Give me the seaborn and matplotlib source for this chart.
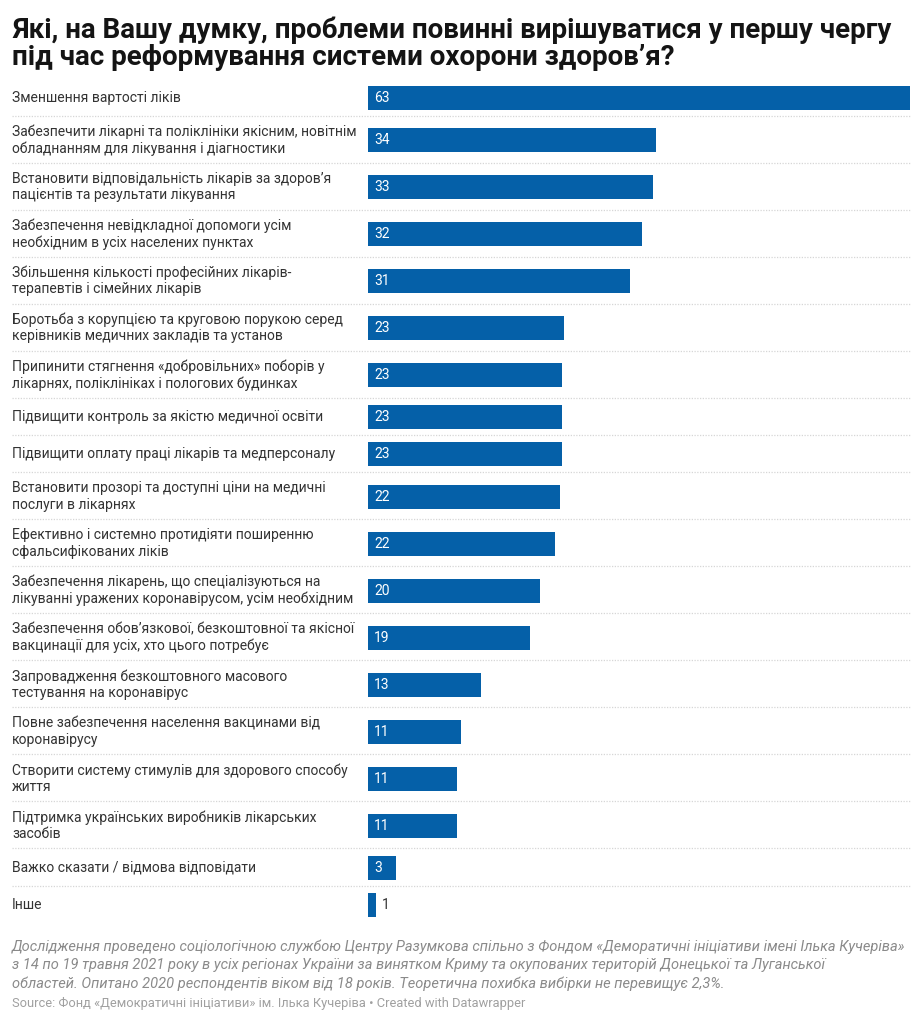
import numpy as np
import pandas as pd
import matplotlib
matplotlib.use("Agg")
import matplotlib.pyplot as plt
import matplotlib.transforms as mtransforms
import seaborn as sns

# --- data -----------------------------------------------------------------
problems = [
    "Зменшення вартості ліків",
    "Забезпечити лікарні та поліклініки якісним, новітнім\nобладнанням для лікування і діагностики",
    "Встановити відповідальність лікарів за здоров’я\nпацієнтів та результати лікування",
    "Забезпечення невідкладної допомоги усім\nнеобхідним в усіх населених пунктах",
    "Збільшення кількості професійних лікарів-\nтерапевтів і сімейних лікарів",
    "Боротьба з корупцією та круговою порукою серед\nкерівників медичних закладів та установ",
    "Припинити стягнення «добровільних» поборів у\nлікарнях, поліклініках і пологових будинках",
    "Підвищити контроль за якістю медичної освіти",
    "Підвищити оплату праці лікарів та медперсоналу",
    "Встановити прозорі та доступні ціни на медичні\nпослуги в лікарнях",
    "Ефективно і системно протидіяти поширенню\nсфальсифікованих ліків",
    "Забезпечення лікарень, що спеціалізуються на\nлікуванні уражених коронавірусом, усім необхідним",
    "Забезпечення обов’язкової, безкоштовної та якісної\nвакцинації для усіх, хто цього потребує",
    "Запровадження безкоштовного масового\nтестування на коронавірус",
    "Повне забезпечення населення вакцинами від\nкоронавірусу",
    "Створити систему стимулів для здорового способу\nжиття",
    "Підтримка українських виробників лікарських\nзасобів",
    "Важко сказати / відмова відповідати",
    "Інше",
]
share = [63.0, 33.5, 33.1, 31.8, 30.4, 22.8, 22.6, 22.5, 22.5, 22.3,
         21.7, 20.0, 18.8, 13.1, 10.8, 10.4, 10.4, 3.3, 0.9]
shown = ["63", "34", "33", "32", "31", "23", "23", "23", "23", "22",
         "22", "20", "19", "13", "11", "11", "11", "3", "1"]

title = ("Які, на Вашу думку, проблеми повинні вирішуватися у першу чергу\n"
         "під час реформування системи охорони здоров’я?")
notes = [
    "Дослідження проведено соціологічною службою Центру Разумкова спільно з Фондом «Деморатичні ініціативи імені Ілька Кучеріва»",
    "з 14 по 19 травня 2021 року в усіх регіонах України за винятком Криму та окупованих територій Донецької та Луганської",
    "областей. Опитано 2020 респондентів віком від 18 років. Теоретична похибка вибірки не перевищує 2,3%.",
]
source = "Source: Фонд «Демократичні ініціативи» ім. Ілька Кучеріва • Created with Datawrapper"

# --- style / layout ---------------------------------------------------------
W, H = 923, 1024
BLUE = "#0560a8"
sns.set_style("white")
plt.rcParams["font.family"] = ["Roboto", "DejaVu Sans"]

# row heights depend on how many lines the label has (pixel units)
n_lines = np.array([p.count("\n") + 1 for p in problems])
row_h = np.where(n_lines > 1, 47.0, 37.3)
edges = 78.4 + np.concatenate([[0], np.cumsum(row_h)])
centers = (edges[:-1] + edges[1:]) / 2 + 0.8

df = pd.DataFrame({"problem": problems, "share": share, "y": centers})

fig = plt.figure(figsize=(W / 100, H / 100), dpi=100)
ax = fig.add_axes([368 / W, 0, (910 - 368) / W, 1])
ax.patch.set_visible(False)

bar_px = 24.0
sns.barplot(data=df, x="share", y="y", orient="h", native_scale=True,
            width=bar_px / np.min(np.diff(centers)), color=BLUE,
            saturation=1, linewidth=0, ax=ax)

ax.set_xlim(0, max(share))
ax.set_ylim(H, 0)
ax.axis("off")

blend = mtransforms.blended_transform_factory(fig.transFigure, ax.transData)

for i, row in df.iterrows():
    ax.text(12 / W, row.y, row.problem, transform=blend, ha="left", va="center",
            fontsize=10, color="#333333", linespacing=1.22)
    if row.share > 2:
        ax.annotate(shown[i], (0, row.y), xytext=(4.5, 0), textcoords="offset points",
                    ha="left", va="center", fontsize=10, color="white")
    else:
        ax.annotate(shown[i], (row.share, row.y), xytext=(4.5, 0), textcoords="offset points",
                    ha="left", va="center", fontsize=10, color="#333333")

for y in edges[1:-1]:
    ax.plot([12 / W, 910 / W], [y, y], transform=blend, color="#d6d6d6",
            lw=0.9, ls=(0, (1, 1.2)), clip_on=False)

for k, line in enumerate(title.split("\n")):
    fig.text(12 / W, 1 - (37.5 + 27.5 * k) / H, line, ha="left", va="baseline",
             fontsize=20, fontweight="bold", color="#141414")

for k, line in enumerate(notes):
    fig.text(12 / W, 1 - (947 + 18.3 * k) / H, line, ha="left", va="center",
             fontsize=10.5, style="italic", color="#8a8a8a")
fig.text(12 / W, 1 - 1003 / H, source, ha="left", va="center",
         fontsize=9.25, color="#a0a0a0")

fig.savefig("out.png", dpi=100)
